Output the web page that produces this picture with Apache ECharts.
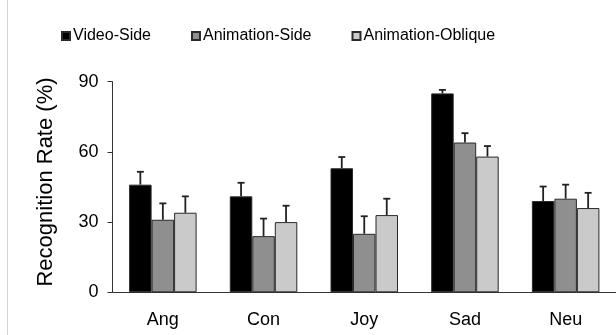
<!DOCTYPE html>
<html>
<head>
<meta charset="utf-8">
<script src="https://cdn.jsdelivr.net/npm/echarts@6/dist/echarts.min.js"></script>
<style>html,body{margin:0;padding:0;background:#fff}#c{width:616px;height:335px}</style>
</head>
<body>
<div id="c"></div>
<script>
var categories = ['Ang', 'Con', 'Joy', 'Sad', 'Neu'];
var seriesNames = ['Video-Side', 'Animation-Side', 'Animation-Oblique'];
var videoSide = [46, 41, 53, 85, 39];
var animationSide = [31, 24, 25, 64, 40];
var animationOblique = [34, 30, 33, 58, 36];
var videoSideErr = [5.5, 5.8, 4.8, 1.5, 6.2];
var animationSideErr = [7, 7.5, 7.5, 4, 6];
var animationObliqueErr = [7, 7, 7, 4.5, 6.5];
var yTicks = [0, 30, 60, 90];

var colors = ['#000000', '#8f8f8f', '#cacaca'];
var values = [videoSide, animationSide, animationOblique];
var errs = [videoSideErr, animationSideErr, animationObliqueErr];
var BW = 22.5;
var FONT = '"Liberation Sans", Arial, Helvetica, sans-serif';

var series = [];
values.forEach(function (vals, i) {
  series.push({
    name: seriesNames[i],
    type: 'bar',
    data: vals,
    barWidth: BW,
    barGap: '0%',
    itemStyle: { color: colors[i], borderColor: '#2a2a2a', borderWidth: 1 },
    emphasis: { disabled: true },
    z: 2
  });
});
values.forEach(function (vals, i) {
  var off = (i - 1) * BW;
  series.push({
    type: 'custom',
    name: seriesNames[i] + ' err',
    data: vals.map(function (v, k) { return [k, v, v + errs[i][k]]; }),
    encode: { x: 0, y: [1, 2] },
    z: 3,
    silent: true,
    renderItem: function (params, api) {
      var base = api.coord([api.value(0), api.value(1)]);
      var top = api.coord([api.value(0), api.value(2)]);
      var x = base[0] + off;
      var style = { stroke: '#222', lineWidth: 1.8 };
      return {
        type: 'group',
        children: [
          { type: 'line', shape: { x1: x, y1: base[1], x2: x, y2: top[1] }, style: style },
          { type: 'line', shape: { x1: x - 3.5, y1: top[1], x2: x + 3.5, y2: top[1] }, style: style }
        ]
      };
    }
  });
});

var chart = echarts.init(document.getElementById('c'), null, { renderer: 'canvas' });
chart.setOption({
  animation: false,
  backgroundColor: '#fff',
  textStyle: { fontFamily: FONT },
  graphic: [{
    type: 'line', shape: { x1: 7.5, y1: 0, x2: 7.5, y2: 335 },
    style: { stroke: '#d4d4d4', lineWidth: 1 }, silent: true
  }],
  legend: {
    data: seriesNames,
    left: 61,
    top: 28,
    itemWidth: 8,
    itemHeight: 8,
    itemGap: 40,
    icon: 'rect',
    selectedMode: false,
    padding: 0,
    textStyle: { fontFamily: FONT, fontSize: 16, color: '#000', padding: [6, 0, 0, -2] }
  },
  grid: { left: 112.5, right: -3, top: 81.7, bottom: 42.7, containLabel: false },
  xAxis: {
    type: 'category',
    data: categories,
    axisLine: { lineStyle: { color: '#333', width: 1 } },
    axisTick: { length: 4, lineStyle: { color: '#333' } },
    axisLabel: { fontFamily: FONT, fontSize: 18, color: '#000', margin: 19 }
  },
  yAxis: {
    type: 'value',
    min: yTicks[0],
    max: yTicks[yTicks.length - 1],
    interval: 30,
    name: 'Recognition Rate (%)',
    nameLocation: 'middle',
    nameRotate: 90,
    nameGap: 56,
    nameTextStyle: { fontFamily: FONT, fontSize: 22, color: '#000', padding: [0, 0, 0, 10] },
    axisLine: { show: true, lineStyle: { color: '#333', width: 1 } },
    axisTick: { show: true, length: 5, lineStyle: { color: '#333' } },
    axisLabel: { fontFamily: FONT, fontSize: 18, color: '#000', margin: 14 },
    splitLine: { show: false }
  },
  series: series
});
</script>
</body>
</html>
